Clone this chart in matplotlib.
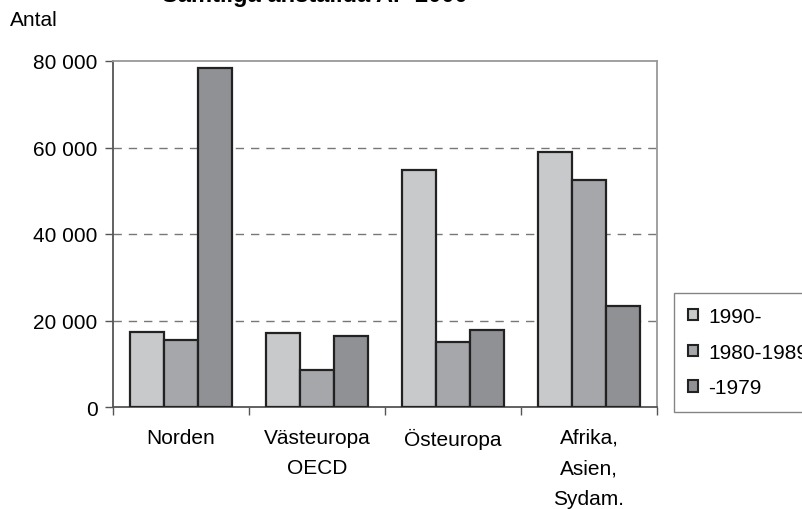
import matplotlib
matplotlib.use("Agg")
import matplotlib.pyplot as plt
import numpy as np

plt.rcParams['font.family'] = ['Liberation Sans', 'DejaVu Sans']

categories = ["Norden", "Västeuropa\nOECD", "Östeuropa", "Afrika,\nAsien,\nSydam."]
series_names = ["1990-", "1980-1989", "-1979"]
v_1990 = [17400, 17000, 54900, 59000]
v_1980 = [15500, 8600, 15100, 52600]
v_1979 = [78300, 16400, 17800, 23400]
yticks = [0, 20000, 40000, 60000, 80000]
ytick_labels = ["0", "20 000", "40 000", "60 000", "80 000"]

colors = ["#c8c9cb", "#a6a7aa", "#909194"]
edge = "#222222"

fig = plt.figure(figsize=(8.03, 5.10), dpi=100)
W, H = 803, 510
left, right, top, bottom = 113, 657, 62, 408
ax = fig.add_axes([left / W, 1 - bottom / H, (right - left) / W, (bottom - top) / H])

x = np.arange(len(categories))
bw = 0.25
for i, (vals, name) in enumerate(zip([v_1990, v_1980, v_1979], series_names)):
    ax.bar(x + (i - 1) * bw, vals, width=bw, color=colors[i], edgecolor=edge,
           linewidth=1.6, label=name, zorder=3)

ax.set_xlim(-0.5, len(categories) - 0.5)
ax.set_ylim(0, 80000)
ax.set_yticks(yticks)
ax.set_yticklabels(ytick_labels, fontsize=15)
ax.set_xticks(x)
ax.set_xticklabels(categories, fontsize=15, linespacing=1.77, va='top')
ax.tick_params(axis='x', length=0, pad=15)
ax.set_xticks(np.arange(-0.5, len(categories)), minor=True)
ax.tick_params(axis='x', which='minor', length=6, width=1, color='#555555', direction='out')
ax.tick_params(axis='y', length=6, width=1, color='#555555', direction='out', pad=5)

for y in yticks[1:-1]:
    ax.axhline(y, color='#777777', linestyle=(0, (6, 5)), linewidth=1, zorder=1)

ax.spines['left'].set_color('#555555')
ax.spines['bottom'].set_color('#555555')
ax.spines['top'].set_color('#999999')
ax.spines['right'].set_color('#999999')
for s in ax.spines.values():
    s.set_linewidth(1.3)

leg = fig.legend(loc='upper left', bbox_to_anchor=(674 / W, 1 - 294 / H),
                 fontsize=15, frameon=True, fancybox=False, edgecolor='#666666',
                 handlelength=0.45, handleheight=0.45, handletextpad=0.5,
                 labelspacing=0.8, borderpad=0.68, borderaxespad=0)
leg.get_frame().set_linewidth(1.0)
for h in leg.legend_handles:
    h.set_linewidth(1.5)

fig.text(10 / W, 1 - 20 / H, "Antal", fontsize=15, va='center', ha='left')
fig.text(315 / W, 1 - 2 / H, "Samtliga anställda AP 2000", fontsize=17,
         fontweight='bold', ha='center', va='baseline')

fig.savefig("out.png", dpi=100)
